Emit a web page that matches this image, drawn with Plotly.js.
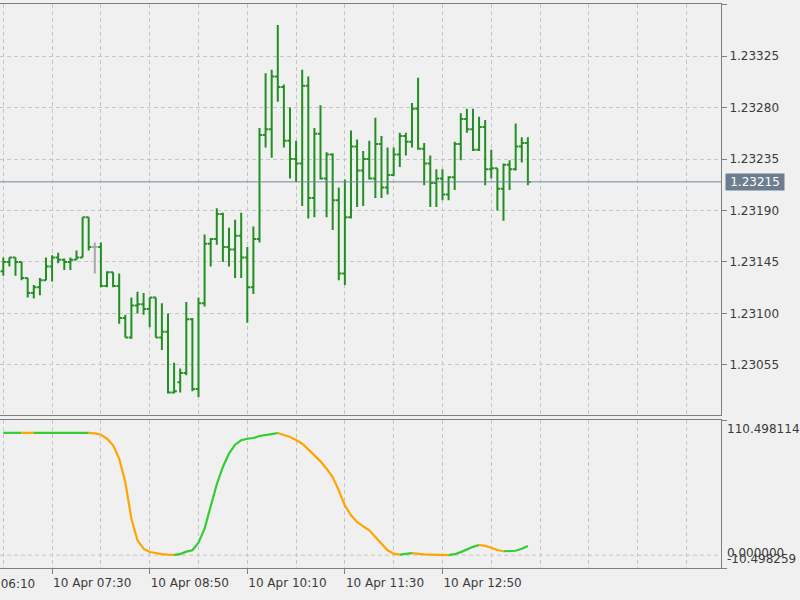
<!DOCTYPE html>
<html>
<head>
<meta charset="utf-8">
<script src="https://cdn.plot.ly/plotly-3.0.1.min.js"></script>
<style>
html,body{margin:0;padding:0;background:#f0f0f0;}
#chart{width:800px;height:600px;}
</style>
</head>
<body>
<div id="chart"></div>
<script>
// ---- data (EURUSD M5, 10 Apr) ----
const firstBar = [2018, 3, 10, 6, 50];   // 10 Apr 06:50
const barMinutes = 5;

const openP = [1.23137,1.23145,1.23149,1.23145,1.23131,1.23118,1.23123,1.23129,1.23141,1.23149,
1.23147,1.23145,1.23147,1.23149,1.23184,1.23158,1.23158,1.23124,1.23136,1.23124,
1.23096,1.23079,1.23107,1.23108,1.23104,1.23114,1.23079,1.23084,1.23031,1.23040,
1.23048,1.23095,1.23034,1.23109,1.23161,1.23165,1.23187,1.23158,1.23156,1.23168,
1.23149,1.23123,1.23165,1.23256,1.23261,1.23307,1.23298,1.23251,1.23235,1.23231,
1.23299,1.23201,1.23257,1.23218,1.23239,1.23199,1.23135,1.23184,1.23246,1.23225,
1.23235,1.23218,1.23248,1.23210,1.23221,1.23239,1.23255,1.23250,1.23279,1.23244,
1.23231,1.23214,1.23218,1.23204,1.23219,1.23248,1.23270,1.23261,1.23243,1.23263,
1.23226,1.23227,1.23209,1.23230,1.23226,1.23246,1.23249];

const highP = [1.23149,1.23149,1.23149,1.23145,1.23131,1.23125,1.23131,1.23149,1.23151,1.23153,
1.23148,1.23149,1.23155,1.23184,1.23184,1.23162,1.23162,1.23137,1.23136,1.23135,
1.23099,1.23114,1.23119,1.23118,1.23114,1.23114,1.23109,1.23100,1.23057,1.23052,
1.23110,1.23096,1.23114,1.23169,1.23166,1.23192,1.23188,1.23175,1.23182,1.23188,
1.23158,1.23176,1.23262,1.23310,1.23313,1.23352,1.23300,1.23280,1.23251,1.23313,
1.23307,1.23262,1.23282,1.23241,1.23240,1.23210,1.23217,1.23260,1.23252,1.23242,
1.23251,1.23271,1.23255,1.23245,1.23245,1.23258,1.23258,1.23284,1.23306,1.23249,
1.23238,1.23226,1.23226,1.23220,1.23250,1.23275,1.23279,1.23279,1.23272,1.23269,
1.23243,1.23227,1.23231,1.23234,1.23266,1.23254,1.23254];

const lowP = [1.23133,1.23141,1.23133,1.23129,1.23114,1.23113,1.23116,1.23129,1.23128,1.23144,
1.23138,1.23138,1.23147,1.23149,1.23155,1.23135,1.23123,1.23123,1.23123,1.23091,
1.23079,1.23078,1.23100,1.23099,1.23088,1.23079,1.23068,1.23030,1.23030,1.23031,
1.23046,1.23032,1.23027,1.23106,1.23141,1.23160,1.23145,1.23141,1.23131,1.23131,
1.23092,1.23117,1.23162,1.23245,1.23236,1.23285,1.23245,1.23218,1.23215,1.23194,
1.23183,1.23184,1.23217,1.23184,1.23173,1.23129,1.23125,1.23183,1.23193,1.23194,
1.23217,1.23201,1.23201,1.23204,1.23220,1.23228,1.23238,1.23245,1.23243,1.23212,
1.23193,1.23193,1.23199,1.23199,1.23208,1.23234,1.23258,1.23242,1.23242,1.23212,
1.23218,1.23190,1.23181,1.23208,1.23225,1.23232,1.23212];

const closeP = [1.23145,1.23149,1.23145,1.23131,1.23118,1.23123,1.23129,1.23141,1.23149,1.23147,
1.23145,1.23147,1.23149,1.23184,1.23158,1.23158,1.23124,1.23136,1.23124,1.23096,
1.23079,1.23107,1.23108,1.23104,1.23114,1.23079,1.23084,1.23031,1.23032,1.23048,
1.23095,1.23034,1.23109,1.23161,1.23165,1.23187,1.23158,1.23156,1.23168,1.23149,
1.23123,1.23165,1.23256,1.23261,1.23307,1.23298,1.23251,1.23235,1.23231,1.23299,
1.23201,1.23257,1.23218,1.23239,1.23199,1.23135,1.23184,1.23246,1.23225,1.23235,
1.23218,1.23248,1.23210,1.23221,1.23239,1.23255,1.23250,1.23279,1.23244,1.23231,
1.23214,1.23218,1.23204,1.23219,1.23248,1.23270,1.23261,1.23243,1.23263,1.23226,
1.23227,1.23209,1.23230,1.23226,1.23246,1.23249,1.23215];

const oscValues = [100,100,100,100,99.95,99.9,100,100,100,100,
100,100,100,100,100,99.6,98.5,95.2,89.8,78.9,
59.8,29.8,12.1,5.3,2.6,1.5,0.8,0.4,0.2,0.9,
2.9,4.0,10.2,21.7,40.0,58.0,72.1,83.0,90.3,93.9,
95.2,95.8,97.4,98.5,99.0,99.9,98.5,96.6,94.1,91.1,
86.5,81.6,76.7,70.7,63.9,53.0,40.7,32.6,27.1,23.6,
20.3,14.9,9.4,4.0,1.2,0.4,0.9,1.6,1.0,0.7,
0.5,0.3,0.2,0.1,0.8,2.5,4.8,6.8,8.3,7.6,
6.0,4.2,3.2,3.3,3.6,5.2,7.5];

const priceTicks = {first: 1.23055, step: 0.00045};
const timeTicks = ['2018-04-10 07:30', '2018-04-10 08:50', '2018-04-10 10:10', '2018-04-10 11:30', '2018-04-10 12:50'];
const cutTimeLabel = '10 Apr 06:10';
const oscLabels = ['110.498114', '0.000000', '-10.498259'];
const oscLevels = [110.498114, 0, -10.498259];
const xRange = ['2018-04-10 06:47:18', '2018-04-10 16:38:18'];
const xTick0 = '2018-04-10 06:10';

// ---- styles ----
const barGreen = '#228f22';
const dojiGray = '#a8a8a8';
const upColor = '#33cc33';
const dnColor = '#ffa500';
const gridColor = '#c6c6c6';
const frameColor = '#7f7f7f';
const textColor = '#3a3a3a';

function fmt(ms){ return new Date(ms).toISOString().slice(0,19).replace('T',' '); }
const t0 = Date.UTC(firstBar[0], firstBar[1], firstBar[2], firstBar[3], firstBar[4]);
const times = openP.map((_, i) => fmt(t0 + i * barMinutes * 60000));

const isDoji = openP.map((o, i) => o === closeP[i]);
const pick = (arr, keep) => arr.map((v, i) => keep(i) ? v : null);

const mainBars = {
  type: 'ohlc', x: times, xaxis: 'x2', yaxis: 'y2',
  open: pick(openP, i => !isDoji[i]), high: pick(highP, i => !isDoji[i]),
  low: pick(lowP, i => !isDoji[i]), close: pick(closeP, i => !isDoji[i]),
  increasing: {line: {color: barGreen, width: 2}},
  decreasing: {line: {color: barGreen, width: 2}},
  tickwidth: 0.45, hoverinfo: 'skip'
};
const dojiBars = {
  type: 'ohlc', x: times, xaxis: 'x2', yaxis: 'y2',
  open: pick(openP, i => isDoji[i]), high: pick(highP, i => isDoji[i]),
  low: pick(lowP, i => isDoji[i]), close: pick(closeP, i => isDoji[i]),
  increasing: {line: {color: dojiGray, width: 2}},
  decreasing: {line: {color: dojiGray, width: 2}},
  tickwidth: 0.45, hoverinfo: 'skip'
};

// split oscillator into rising (green) and falling (orange) runs
const upX = [], upY = [], dnX = [], dnY = [];
const seg = [];
for (let i = 0; i < oscValues.length - 1; i++) seg.push(oscValues[i+1] < oscValues[i] ? 'dn' : 'up');
let s = 0;
while (s < seg.length) {
  let e = s;
  while (e + 1 < seg.length && seg[e+1] === seg[s]) e++;
  const X = seg[s] === 'up' ? upX : dnX;
  const Y = seg[s] === 'up' ? upY : dnY;
  for (let k = s; k <= e + 1; k++) { X.push(times[k]); Y.push(oscValues[k]); }
  X.push(null); Y.push(null);
  s = e + 1;
}
const oscUp = {type: 'scatter', mode: 'lines', x: upX, y: upY, xaxis: 'x', yaxis: 'y',
  line: {color: upColor, width: 2.2}, connectgaps: false, hoverinfo: 'skip'};
const oscDn = {type: 'scatter', mode: 'lines', x: dnX, y: dnY, xaxis: 'x', yaxis: 'y',
  line: {color: dnColor, width: 2.2}, connectgaps: false, hoverinfo: 'skip'};

const lastClose = closeP[closeP.length - 1];
const gridDash = '4px,3px';

const layout = {
  width: 800, height: 600,
  paper_bgcolor: '#f0f0f0', plot_bgcolor: '#f0f0f0',
  margin: {l: 0, r: 79, t: 4, b: 32},
  showlegend: false,
  font: {family: 'DejaVu Sans', size: 12, color: textColor},
  xaxis: {
    type: 'date', range: xRange, anchor: 'y',
    tickmode: 'array', tickvals: timeTicks, tickformat: '%d %b %H:%M',
    ticks: 'outside', ticklen: 5, tickcolor: frameColor,
    ticklabelposition: 'outside right', ticklabelstandoff: 4,
    showgrid: true, gridcolor: gridColor, griddash: gridDash,
    minor: {dtick: 40 * 60000, tick0: xTick0, showgrid: true, gridcolor: gridColor, griddash: gridDash, ticks: ''},
    showline: true, mirror: true, linecolor: frameColor, linewidth: 1,
    rangeslider: {visible: false}, zeroline: false, fixedrange: true
  },
  xaxis2: {
    type: 'date', matches: 'x', anchor: 'y2', range: xRange,
    tickmode: 'array', tickvals: timeTicks, showticklabels: false, ticks: '',
    showgrid: true, gridcolor: gridColor, griddash: gridDash,
    minor: {dtick: 40 * 60000, tick0: xTick0, showgrid: true, gridcolor: gridColor, griddash: gridDash, ticks: ''},
    showline: true, mirror: true, linecolor: frameColor, linewidth: 1,
    rangeslider: {visible: false}, zeroline: false
  },
  yaxis: {
    domain: [0, 0.26241], anchor: 'x', side: 'right',
    range: [oscLevels[2], oscLevels[0]],
    tickmode: 'array', tickvals: [oscLevels[0], oscLevels[2]], showticklabels: false,
    ticks: 'outside', ticklen: 5, tickcolor: frameColor,
    showgrid: false, zeroline: false,
    showline: true, linecolor: frameColor, linewidth: 1
  },
  yaxis2: {
    domain: [0.27128, 1], anchor: 'x2', side: 'right',
    range: [1.230113, 1.2337044],
    tick0: priceTicks.first, dtick: priceTicks.step, tickformat: '.5f',
    ticks: 'outside', ticklen: 5, tickcolor: frameColor,
    showgrid: true, gridcolor: gridColor, griddash: gridDash, zeroline: false,
    showline: true, linecolor: frameColor, linewidth: 1
  },
  shapes: [
    {type: 'line', xref: 'x domain', yref: 'y', x0: 0, x1: 1, y0: oscLevels[1], y1: oscLevels[1],
     line: {color: gridColor, width: 1, dash: gridDash}, layer: 'below'},
    {type: 'line', xref: 'x2 domain', yref: 'y2', x0: 0, x1: 1, y0: lastClose, y1: lastClose,
     line: {color: '#71849a', width: 1}}
  ],
  annotations: [
    {xref: 'paper', x: 1, xanchor: 'left', xshift: 4, yref: 'y2', y: lastClose, yanchor: 'middle',
     text: lastClose.toFixed(5), showarrow: false, bgcolor: '#6c7d8f', font: {color: '#ffffff', size: 12},
     borderpad: 1, width: 56, align: 'center'},
    {xref: 'paper', x: 1, xanchor: 'left', xshift: 4, yref: 'y', y: oscLevels[0], yanchor: 'top',
     text: oscLabels[0], showarrow: false},
    {xref: 'paper', x: 1, xanchor: 'left', xshift: 4, yref: 'y', y: oscLevels[1], yanchor: 'middle', yshift: 2,
     text: oscLabels[1], showarrow: false},
    {xref: 'paper', x: 1, xanchor: 'left', xshift: 4, yref: 'y', y: oscLevels[2], yanchor: 'bottom',
     text: oscLabels[2], showarrow: false},
    {xref: 'paper', x: -45.5 / 721, xanchor: 'left', yref: 'paper', y: 0, yanchor: 'top', yshift: -7,
     text: cutTimeLabel, showarrow: false}
  ]
};

Plotly.newPlot('chart', [mainBars, dojiBars, oscUp, oscDn], layout, {staticPlot: true, displayModeBar: false});
</script>
</body>
</html>
